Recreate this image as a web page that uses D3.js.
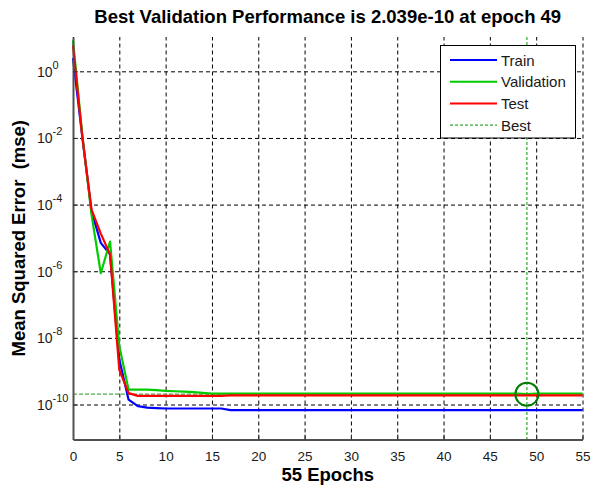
<!DOCTYPE html>
<html>
<head>
<meta charset="utf-8">
<title>Best Validation Performance</title>
<style>
  body { margin: 0; background: #fff; }
  svg { display: block; font-family: "Liberation Sans", Arial, sans-serif; }
  .grid line { stroke: #000; stroke-width: 1; stroke-dasharray: 4,3; }
  .grid path { display: none; }
</style>
</head>
<body>
<script src="https://d3js.org/d3.v7.min.js"></script>
<script>

var width = 592,
    height = 486;

var margin = {top: 37, right: 9.5, bottom: 46.5, left: 73};
var w = width - margin.left - margin.right,
    h = height - margin.top - margin.bottom;

// epochs 0..55
var epochs = [0,1,2,3,4,5,6,7,8,9,10,11,12,13,14,15,16,17,18,19,20,21,22,23,24,25,26,27,
              28,29,30,31,32,33,34,35,36,37,38,39,40,41,42,43,44,45,46,47,48,49,50,51,52,53,54,55];

var train = [2.5, 1.12e-2, 6.3e-5, 7.1e-6, 3.2e-6, 2.2e-9, 1.4e-10, 8.9e-11, 8.1e-11, 7.8e-11,
             7.6e-11, 7.6e-11, 7.6e-11, 7.6e-11, 7.6e-11, 7.6e-11, 7.6e-11,
             6.8e-11, 6.8e-11, 6.8e-11, 6.8e-11, 6.8e-11, 6.8e-11, 6.8e-11, 6.8e-11, 6.8e-11, 6.8e-11,
             6.8e-11, 6.8e-11, 6.8e-11, 6.8e-11, 6.8e-11, 6.8e-11, 6.8e-11, 6.8e-11, 6.8e-11, 6.8e-11,
             6.8e-11, 6.8e-11, 6.8e-11, 6.8e-11, 6.8e-11, 6.8e-11, 6.8e-11, 6.8e-11, 6.8e-11, 6.8e-11,
             6.8e-11, 6.8e-11, 6.8e-11, 6.8e-11, 6.8e-11, 6.8e-11, 6.8e-11, 6.8e-11, 6.8e-11];

var validation = [8.5, 1.26e-2, 5.0e-5, 8.7e-7, 7.8e-6, 5.6e-9, 2.8e-10, 2.8e-10, 2.8e-10, 2.7e-10,
                  2.55e-10, 2.5e-10, 2.45e-10, 2.35e-10, 2.25e-10,
                  2.12e-10, 2.12e-10, 2.12e-10, 2.12e-10, 2.12e-10, 2.12e-10, 2.12e-10, 2.12e-10, 2.12e-10, 2.12e-10,
                  2.12e-10, 2.12e-10, 2.12e-10, 2.12e-10, 2.12e-10, 2.12e-10, 2.12e-10, 2.12e-10, 2.12e-10, 2.12e-10,
                  2.12e-10, 2.12e-10, 2.12e-10, 2.12e-10, 2.12e-10, 2.12e-10, 2.12e-10, 2.12e-10, 2.12e-10, 2.12e-10,
                  2.12e-10, 2.12e-10, 2.12e-10, 2.12e-10, 2.039e-10,
                  2.12e-10, 2.12e-10, 2.12e-10, 2.12e-10, 2.12e-10, 2.12e-10];

var test = [6.0, 1.12e-2, 7.1e-5, 1.35e-5, 3.2e-6, 1.1e-9, 2.2e-10,
            1.82e-10, 1.82e-10, 1.82e-10, 1.82e-10, 1.82e-10, 1.82e-10, 1.82e-10, 1.82e-10, 1.82e-10, 1.82e-10,
            1.88e-10, 1.88e-10, 1.88e-10, 1.88e-10, 1.88e-10, 1.88e-10, 1.88e-10, 1.88e-10, 1.88e-10, 1.88e-10,
            1.88e-10, 1.88e-10, 1.88e-10, 1.88e-10, 1.88e-10, 1.88e-10, 1.88e-10, 1.88e-10, 1.88e-10, 1.88e-10,
            1.88e-10, 1.88e-10, 1.88e-10, 1.88e-10, 1.88e-10, 1.88e-10, 1.88e-10, 1.88e-10, 1.88e-10, 1.88e-10,
            1.88e-10, 1.88e-10, 1.88e-10, 1.88e-10, 1.88e-10, 1.88e-10, 1.88e-10, 1.88e-10, 1.88e-10];

var bestEpoch = 49,
    bestValue = 2.039e-10;

var xTicks = [0, 5, 10, 15, 20, 25, 30, 35, 40, 45, 50, 55];
var yTicks = [1e0, 1e-2, 1e-4, 1e-6, 1e-8, 1e-10];
var yTickExp = ["0", "-2", "-4", "-6", "-8", "-10"];

var seriesNames = ["Train", "Validation", "Test", "Best"];
var seriesColors = ["#0000ff", "#00cc00", "#ff0000", "#009900"];

var x = d3.scaleLinear().domain([0, 55]).range([0, w]);
var y = d3.scaleLog().domain([Math.pow(10, -11.05), Math.pow(10, 1.03)]).range([h, 0]);

var svg = d3.select("body").append("svg")
    .attr("width", width)
    .attr("height", height);

svg.append("rect").attr("width", width).attr("height", height).attr("fill", "#fff");

var g = svg.append("g")
    .attr("transform", "translate(" + margin.left + "," + margin.top + ")");

// grid
g.append("g")
    .attr("class", "grid")
    .attr("transform", "translate(0," + h + ")")
    .call(d3.axisBottom(x).tickValues(xTicks).tickSize(-h).tickFormat(""));

g.append("g")
    .attr("class", "grid")
    .call(d3.axisLeft(y).tickValues(yTicks).tickSize(-w).tickFormat(""));

// best markers
g.append("line")
    .attr("x1", x(bestEpoch)).attr("x2", x(bestEpoch))
    .attr("y1", 0).attr("y2", h)
    .attr("stroke", seriesColors[3])
    .attr("stroke-width", 1)
    .attr("stroke-dasharray", "3,2");

g.append("line")
    .attr("x1", x(0)).attr("x2", x(bestEpoch))
    .attr("y1", y(bestValue)).attr("y2", y(bestValue))
    .attr("stroke", "#4caf4c")
    .attr("stroke-width", 1.2)
    .attr("stroke-dasharray", "4,2");

// curves
var line = d3.line()
    .x(function (d, i) { return x(epochs[i]); })
    .y(function (d) { return y(d); });

[train, validation, test].forEach(function (s, k) {
    g.append("path")
        .datum(s)
        .attr("fill", "none")
        .attr("stroke", seriesColors[k])
        .attr("stroke-width", 2.2)
        .attr("stroke-linejoin", "round")
        .attr("d", line);
});

g.append("circle")
    .attr("cx", x(bestEpoch))
    .attr("cy", y(bestValue))
    .attr("r", 11.5)
    .attr("fill", "none")
    .attr("stroke", "#007a00")
    .attr("stroke-width", 2);

// axes
var xAxis = g.append("g")
    .attr("transform", "translate(0," + h + ")")
    .call(d3.axisBottom(x).tickValues(xTicks).tickSizeInner(-5).tickSizeOuter(0).tickPadding(12));
xAxis.select(".domain").attr("stroke", "#505050").attr("stroke-width", 2);
xAxis.selectAll(".tick line").attr("stroke", "#303030");
xAxis.selectAll("text")
    .attr("font-size", "13.5px")
    .attr("fill", "#1a1a1a");

var yAxis = g.append("g")
    .call(d3.axisLeft(y).tickValues(yTicks).tickSizeInner(-5).tickSizeOuter(0).tickFormat(""));
yAxis.select(".domain").attr("stroke", "#505050").attr("stroke-width", 2);
yAxis.selectAll(".tick line").attr("stroke", "#303030");

yTicks.forEach(function (v, i) {
    var t = g.append("text")
        .attr("x", 37 - margin.left)
        .attr("y", y(v) + 5.5)
        .attr("font-size", "14px")
        .attr("fill", "#1a1a1a");
    t.append("tspan").text("10");
    t.append("tspan")
        .attr("dy", -8)
        .attr("font-size", "11px")
        .text(yTickExp[i]);
});

// title & labels
svg.append("text")
    .attr("x", margin.left + w / 2)
    .attr("y", 23)
    .attr("text-anchor", "middle")
    .attr("font-size", "18.5px")
    .attr("font-weight", "bold")
    .text("Best Validation Performance is 2.039e-10 at epoch 49");

svg.append("text")
    .attr("x", margin.left + w / 2)
    .attr("y", 481)
    .attr("text-anchor", "middle")
    .attr("font-size", "18.5px")
    .attr("font-weight", "bold")
    .text("55 Epochs");

svg.append("text")
    .attr("transform", "translate(25," + (margin.top + h / 2) + ") rotate(-90)")
    .attr("text-anchor", "middle")
    .attr("font-size", "18.5px")
    .attr("font-weight", "bold")
    .attr("xml:space", "preserve")
    .style("white-space", "pre")
    .text("Mean Squared Error  (mse)");

// legend
var legend = svg.append("g").attr("transform", "translate(440.5,45.5)");
legend.append("rect")
    .attr("width", 135)
    .attr("height", 92.5)
    .attr("fill", "#fff")
    .attr("stroke", "#000")
    .attr("stroke-width", 1);

seriesNames.forEach(function (name, i) {
    var cy = 14.5 + i * 21.7;
    legend.append("line")
        .attr("x1", 9.5).attr("x2", 56.5)
        .attr("y1", cy).attr("y2", cy)
        .attr("stroke", seriesColors[i])
        .attr("stroke-width", i < 3 ? 2 : 1)
        .attr("stroke-dasharray", i < 3 ? null : "3,2");
    legend.append("text")
        .attr("x", 60.5)
        .attr("y", cy + 5.5)
        .attr("font-size", "15px")
        .attr("fill", "#1a1a1a")
        .text(name);
});

</script>
</body>
</html>
